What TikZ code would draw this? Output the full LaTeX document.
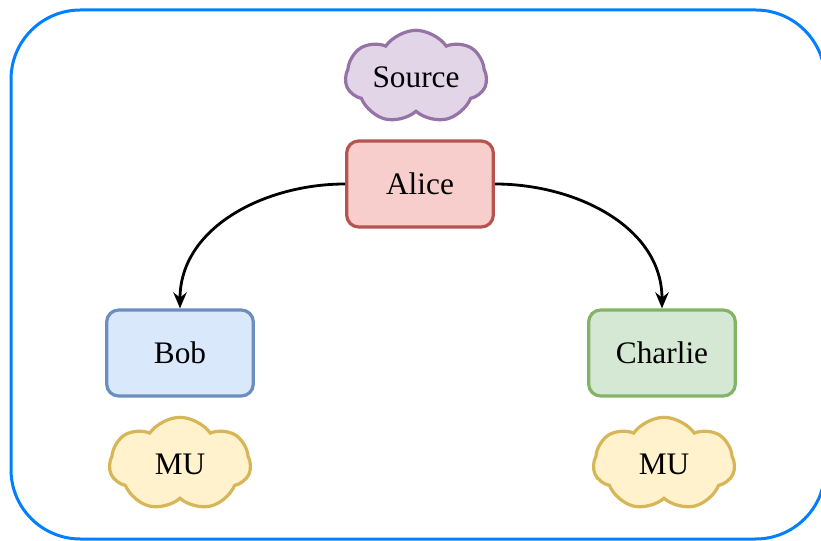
\documentclass[tikz,border=0pt]{standalone}
\usepackage{fontspec}
\setmainfont{Liberation Serif}
\usetikzlibrary{shapes.symbols,arrows.meta}
\definecolor{frameblue}{HTML}{007FFF}
\definecolor{redfill}{HTML}{F8CECC}
\definecolor{reddraw}{HTML}{B85450}
\definecolor{bluefill}{HTML}{DAE8FC}
\definecolor{bluedraw}{HTML}{6C8EBF}
\definecolor{greenfill}{HTML}{D5E8D4}
\definecolor{greendraw}{HTML}{82B366}
\definecolor{purplefill}{HTML}{E1D5E7}
\definecolor{purpledraw}{HTML}{9673A6}
\definecolor{yellowfill}{HTML}{FFF2CC}
\definecolor{yellowdraw}{HTML}{D6B656}
\begin{document}
\begin{tikzpicture}[x=0.75pt, y=-0.75pt,
      font=\fontsize{23.5}{28}\selectfont,
      party/.style = {draw, rounded corners=9pt, line width=2.4pt,
                      minimum width=110pt, minimum height=64.5pt},
      puff/.style = {draw, cloud, cloud puffs=7, cloud puff arc=110,
                     cloud ignores aspect, line width=2.4pt,
                     minimum width=106pt, minimum height=70pt},
      arrow/.style = {-{Stealth[length=12pt,width=10pt]}, line width=2.1pt}]
    \useasboundingbox (0,0) rectangle (821,541);
    % frame
    \draw[frameblue, line width=2.25pt, rounded corners=52pt]
      (11,10) rectangle (825,539);

    % nodes
    \node[puff, fill=purplefill, draw=purpledraw] (source) at (416,77) {Source};
    \node[party, fill=redfill, draw=reddraw] (alice) at (420,184) {Alice};
    \node[party, fill=bluefill, draw=bluedraw] (bob) at (180,353) {Bob};
    \node[party, fill=greenfill, draw=greendraw] (charlie) at (662,353) {Charlie};
    \node[puff, fill=yellowfill, draw=yellowdraw] (mu1) at (180,464) {MU};
    \node[puff, fill=yellowfill, draw=yellowdraw] (mu2) at (664,464) {MU};

    % directed edges
    \draw[arrow] (alice.west) to[out=180, in=90] (bob.north);
    \draw[arrow] (alice.east) to[out=0, in=90] (charlie.north);
  \end{tikzpicture}
\end{document}
